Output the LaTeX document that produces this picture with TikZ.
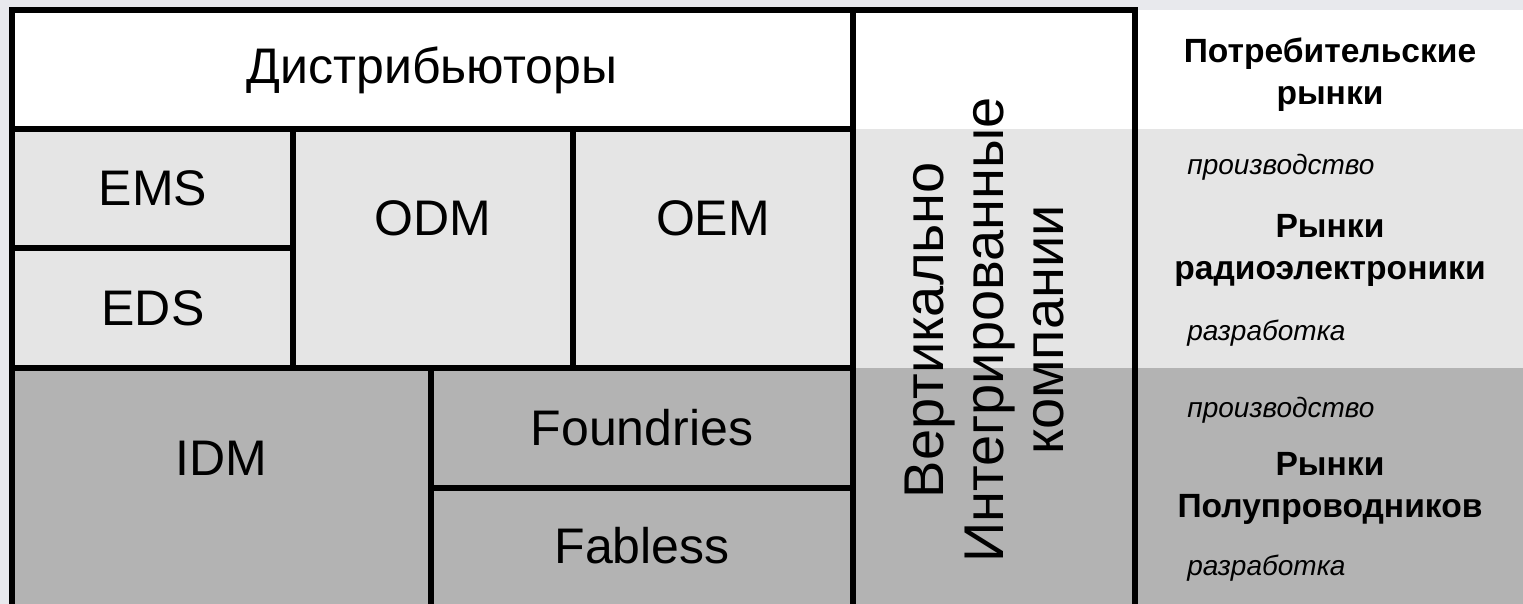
\documentclass[tikz,border=0pt]{standalone}
\usepackage{fontspec}
\setmainfont{Liberation Sans}
\definecolor{bgc}{HTML}{E8E9ED}
\definecolor{lightg}{HTML}{E5E5E5}
\definecolor{darkg}{HTML}{B3B3B3}
\tikzset{
  grid line/.style={line width=3pt, line cap=rect},
  big/.style={font=\fontsize{25}{30}\selectfont, inner sep=0pt},
  bold/.style={font=\fontsize{16.8}{21}\selectfont\bfseries, align=center, inner sep=0pt},
  ital/.style={font=\fontsize{14}{16}\selectfont\itshape, anchor=west, inner sep=0pt},
}
\begin{document}
\begin{tikzpicture}[x=0.5pt,y=-0.5pt]
\useasboundingbox (0,0) rectangle (1523,604);
% background
\fill[bgc] (0,0) rectangle (1523,604);
\fill[white] (12,10) rectangle (1523,129);
\fill[lightg] (12,129) rectangle (1523,368);
\fill[darkg] (12,368) rectangle (1523,604);
% grid lines
\draw[grid line] (12,620) -- (12,10) -- (1135,10) -- (1135,620);
\draw[grid line] (853,10) -- (853,620);
\draw[grid line] (12,129) -- (853,129);
\draw[grid line] (12,248) -- (293,248);
\draw[grid line] (12,368) -- (853,368);
\draw[grid line] (293,129) -- (293,368);
\draw[grid line] (573,129) -- (573,368);
\draw[grid line] (431,368) -- (431,620);
\draw[grid line] (431,488) -- (853,488);
% texts
\node[big] (dist) at (432,70) {Дистрибьюторы};
\node[big] (ems) at (153,188) {EMS};
\node[big] (eds) at (153,308) {EDS};
\node[big] (odm) at (433,218) {ODM};
\node[big] (oem) at (713,218) {OEM};
\node[big] (idm) at (221,458) {IDM};
\node[big] (found) at (642,428) {Foundries};
\node[big] (fab) at (642,546) {Fabless};
\node[inner sep=0pt, rotate=90, align=center, font=\fontsize{28}{30}\selectfont] (vert) at (985,330) {Вертикально\\Интегрированные\\компании};
\node[bold] (cons) at (1330,75) {Потребительские\\рынки};
\node[ital] (p1) at (1187,167) {производство};
\node[bold] (radio) at (1330,250) {Рынки\\радиоэлектроники};
\node[ital] (r1) at (1187,333) {разработка};
\node[ital] (p2) at (1187,410) {производство};
\node[bold] (semi) at (1330,488) {Рынки\\Полупроводников};
\node[ital] (r2) at (1187,568) {разработка};
\end{tikzpicture}
\end{document}
